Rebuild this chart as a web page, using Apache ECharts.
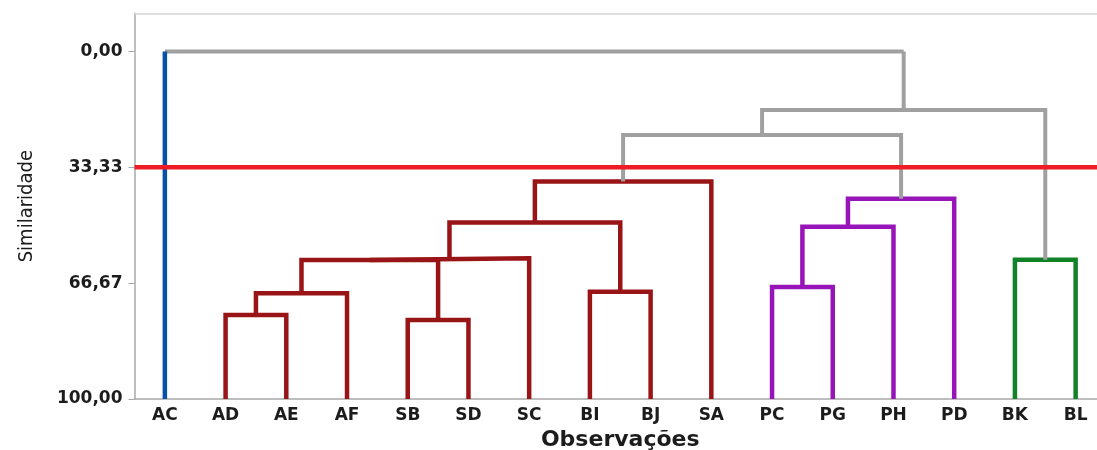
<!DOCTYPE html>
<html>
<head>
<meta charset="utf-8">
<script src="https://cdn.jsdelivr.net/npm/echarts@6/dist/echarts.min.js"></script>
<style>
html,body{margin:0;padding:0;background:#fff;}
#chart{width:1097px;height:450px;}
</style>
</head>
<body>
<div id="chart"></div>
<script>
// ---- data ----
const observations = ['AC','AD','AE','AF','SB','SD','SC','BI','BJ','SA','PC','PG','PH','PD','BK','BL'];
// cluster membership of each observation (0..3)
const clusterOfLeaf = [0,1,1,1,1,1,1,1,1,1,2,2,2,2,3,3];
// merges: node ids 0..15 are observations, merge k creates node 16+k
const mergeLeft  = [1, 4, 10, 7, 16, 14, 20, 22, 23, 18, 25, 24, 27, 28, 0];
const mergeRight = [2, 5, 11, 8, 3, 15, 17, 6, 19, 12, 13, 9, 26, 21, 29];
const mergeSimilarity = [75.8, 77.3, 67.8, 69.1, 69.6, 59.9, 60.0, 59.5, 49.2, 50.4, 42.4, 37.4, 24.0, 16.8, 0.0];
const cutLevel = 33.33;
const yTickValues = [0, 33.33, 66.67, 100];
const yTickLabels = ['0,00', '33,33', '66,67', '100,00'];

// ---- style ----
const clusterColors = ['#0752a6', '#991416', '#9614b8', '#128228'];
const linkGray = '#a0a0a0';
const cutColor = '#ee1c25';
const textColor = '#1c1c1c';

// ---- build dendrogram segments ----
const nLeaf = observations.length;
const nodeX = [], nodeY = [], nodeCluster = [];
for (let i = 0; i < nLeaf; i++) { nodeX.push(i); nodeY.push(100); nodeCluster.push(clusterOfLeaf[i]); }
const series = [];
function seg(points, color, width) {
  series.push({
    type: 'line', xAxisIndex: 1, yAxisIndex: 0, data: points,
    showSymbol: false, symbol: 'none', silent: true, animation: false,
    lineStyle: { color: color, width: width, join: 'miter', cap: 'butt' }, z: 2
  });
}
for (let k = 0; k < mergeLeft.length; k++) {
  const a = mergeLeft[k], b = mergeRight[k], s = mergeSimilarity[k];
  const xa = nodeX[a], xb = nodeX[b];
  const cl = nodeCluster[a];
  const inCluster = s > cutLevel;
  const hColor = inCluster ? clusterColors[cl] : linkGray;
  const ca = a < nLeaf ? clusterColors[nodeCluster[a]] : hColor;
  const cb = b < nLeaf ? clusterColors[nodeCluster[b]] : hColor;
  const w = inCluster ? 4.5 : 4;
  if (ca === hColor && cb === hColor) {
    seg([[xa, nodeY[a]], [xa, s], [xb, s], [xb, nodeY[b]]], hColor, w);
  } else {
    seg([[xa, s], [xb, s]], hColor, w);
    seg([[xa, nodeY[a]], [xa, s]], ca, a < nLeaf ? 4.5 : w);
    seg([[xb, nodeY[b]], [xb, s]], cb, b < nLeaf ? 4.5 : w);
  }
  nodeX.push((xa + xb) / 2);
  nodeY.push(s);
  nodeCluster.push(cl);
}
// cut line
series.push({
  type: 'line', xAxisIndex: 1, yAxisIndex: 0,
  data: [[-0.5, cutLevel], [nLeaf - 0.5, cutLevel]],
  showSymbol: false, symbol: 'none', silent: true, animation: false,
  lineStyle: { color: cutColor, width: 4.5 }, z: 5
});

const chart = echarts.init(document.getElementById('chart'), null, { renderer: 'canvas' });
chart.setOption({
  animation: false,
  backgroundColor: '#ffffff',
  grid: { left: 134.5, right: -9, top: 13.3, bottom: 51, containLabel: false, outerBoundsMode: 'none' },
  xAxis: [
    {
      type: 'category', data: observations, position: 'bottom', boundaryGap: true,
      axisLine: { onZero: false, lineStyle: { color: '#a8a8a8', width: 1.5 } },
      axisTick: { alignWithLabel: true, length: 5, lineStyle: { color: '#a8a8a8' } },
      axisLabel: { margin: 8, color: textColor, fontFamily: 'DejaVu Sans', fontSize: 17, fontWeight: 'bold' },
      splitLine: { show: false },
      name: 'Observações', nameLocation: 'middle', nameGap: 30,
      nameTextStyle: { color: textColor, fontFamily: 'DejaVu Sans', fontSize: 22, fontWeight: 'bold' }
    },
    {
      type: 'value', position: 'top', min: -0.5, max: nLeaf - 0.5,
      axisLine: { show: true, onZero: false, lineStyle: { color: '#d4d4d4', width: 1.5 } },
      axisTick: { show: false }, axisLabel: { show: false }, splitLine: { show: false }
    }
  ],
  yAxis: [{
    type: 'value', inverse: true, min: -11, max: 100, position: 'left',
    axisLine: { show: true, onZero: false, lineStyle: { color: '#a8a8a8', width: 1.5 } },
    axisTick: { show: true, length: 6, customValues: yTickValues, lineStyle: { color: '#a8a8a8' } },
    axisLabel: {
      margin: 12, color: textColor, fontFamily: 'DejaVu Sans', fontSize: 17, fontWeight: 'bold',
      customValues: yTickValues,
      formatter: function (v) { const i = yTickValues.indexOf(v); return i >= 0 ? yTickLabels[i] : ''; }
    },
    splitLine: { show: false },
    name: 'Similaridade', nameLocation: 'middle', nameGap: 98, nameRotate: 90,
    nameTextStyle: { color: textColor, fontFamily: '"Liberation Sans Narrow","DejaVu Sans Condensed","Noto Sans"', fontSize: 20 }
  }],
  series: series
});
</script>
</body>
</html>
